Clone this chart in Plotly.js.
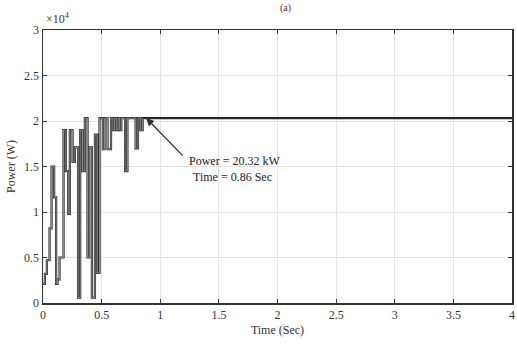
<!DOCTYPE html>
<html><head><meta charset="utf-8">
<script src="https://cdn.plot.ly/plotly-3.0.1.min.js"></script>
<style>html,body{margin:0;padding:0;background:#fff;}#c{width:517px;height:345px;}</style>
</head><body><div id="c"></div>
<script>
// switching instants (s) and power levels (W), step-held
const timeSec = [0, 0.016, 0.033, 0.056, 0.073, 0.095, 0.112, 0.124, 0.141, 0.175, 0.195, 0.215, 0.229, 0.252, 0.272, 0.300, 0.317, 0.337, 0.357, 0.380, 0.394, 0.417, 0.443, 0.463, 0.482, 0.511, 0.525, 0.55, 0.58, 0.596, 0.611, 0.625, 0.64, 0.654, 0.668, 0.70, 0.72, 0.79, 0.81, 0.83, 0.85, 4];
const powerW  = [2100, 3200, 4700, 8200, 15000, 11600, 2100, 2600, 5000, 19000, 14500, 9800, 19000, 15500, 17100, 600, 19000, 14500, 20320, 5000, 17100, 600, 18500, 3300, 20320, 16900, 20320, 16900, 20320, 19000, 20320, 19000, 20320, 19000, 20320, 14500, 20320, 17000, 20320, 19000, 20320, 20320];
const transientEnd = 0.86;
const yTickVals = [0, 5000, 10000, 15000, 20000, 25000, 30000];
const yTickText = ['0', '0.5', '1', '1.5', '2', '2.5', '3'];
const xTickVals = [0, 0.5, 1, 1.5, 2, 2.5, 3, 3.5, 4];
const xTickText = ['0', '0.5', '1', '1.5', '2', '2.5', '3', '3.5', '4'];
const markT = 0.88, markP = 20320;

const tt = [], pp = [];
for (let i = 0; i < timeSec.length; i++) { if (timeSec[i] <= transientEnd) { tt.push(timeSec[i]); pp.push(powerW[i]); } }

const serif = 'Liberation Serif, Times New Roman, serif';
const data = [
  {x: timeSec, y: powerW, type: 'scatter', mode: 'lines', line: {shape: 'hv', color: '#262626', width: 2.2}, hoverinfo: 'skip'},
  {x: tt, y: pp, type: 'scatter', mode: 'lines', line: {shape: 'hv', color: '#9a9a9a', width: 0.9}, hoverinfo: 'skip'}
];
const axisCommon = {showline: true, mirror: 'ticks', linecolor: '#333', linewidth: 1.5, ticks: 'inside', ticklen: 4, tickcolor: '#333',
  showgrid: true, gridcolor: '#e3e3e3', gridwidth: 1, zeroline: false, tickfont: {family: serif, size: 12, color: '#333'}};
const layout = {
  width: 517, height: 345, showlegend: false,
  margin: {l: 43, r: 5, t: 30, b: 42},
  paper_bgcolor: '#fff', plot_bgcolor: '#fff',
  xaxis: Object.assign({}, axisCommon, {range: [0, 4], tickvals: xTickVals, ticktext: xTickText,
    title: {text: 'Time (Sec)', font: {family: serif, size: 12, color: '#333'}, standoff: 4}}),
  yaxis: Object.assign({}, axisCommon, {range: [0, 30000], tickvals: yTickVals, ticktext: yTickText,
    title: {text: 'Power (W)', font: {family: serif, size: 12, color: '#333'}, standoff: 6}}),
  annotations: [
    {x: markT, y: markP, xref: 'x', yref: 'y', text: '', showarrow: true, arrowhead: 2, arrowsize: 1.2, arrowwidth: 1.3, arrowcolor: '#333', ax: 38, ay: 39},
    {x: 1.23, y: 15600, xref: 'x', yref: 'y', text: 'Power = 20.32 kW', showarrow: false, xanchor: 'left', yanchor: 'middle', font: {family: serif, size: 12, color: '#222'}},
    {x: 1.26, y: 13900, xref: 'x', yref: 'y', text: 'Time = 0.86 Sec', showarrow: false, xanchor: 'left', yanchor: 'middle', font: {family: serif, size: 12, color: '#222'}},
    {x: 0, y: 1, xref: 'paper', yref: 'paper', text: '×10<sup>4</sup>', showarrow: false, xanchor: 'left', yanchor: 'bottom', xshift: 1, yshift: 2, font: {family: serif, size: 12, color: '#333'}},
    {x: 0.5, y: 1, xref: 'paper', yref: 'paper', text: '(a)', showarrow: false, xanchor: 'center', yanchor: 'top', xshift: 8, yshift: 30, font: {family: serif, size: 10, color: '#333'}}
  ]
};
Plotly.newPlot('c', data, layout, {displayModeBar: false, staticPlot: true});
</script></body></html>
